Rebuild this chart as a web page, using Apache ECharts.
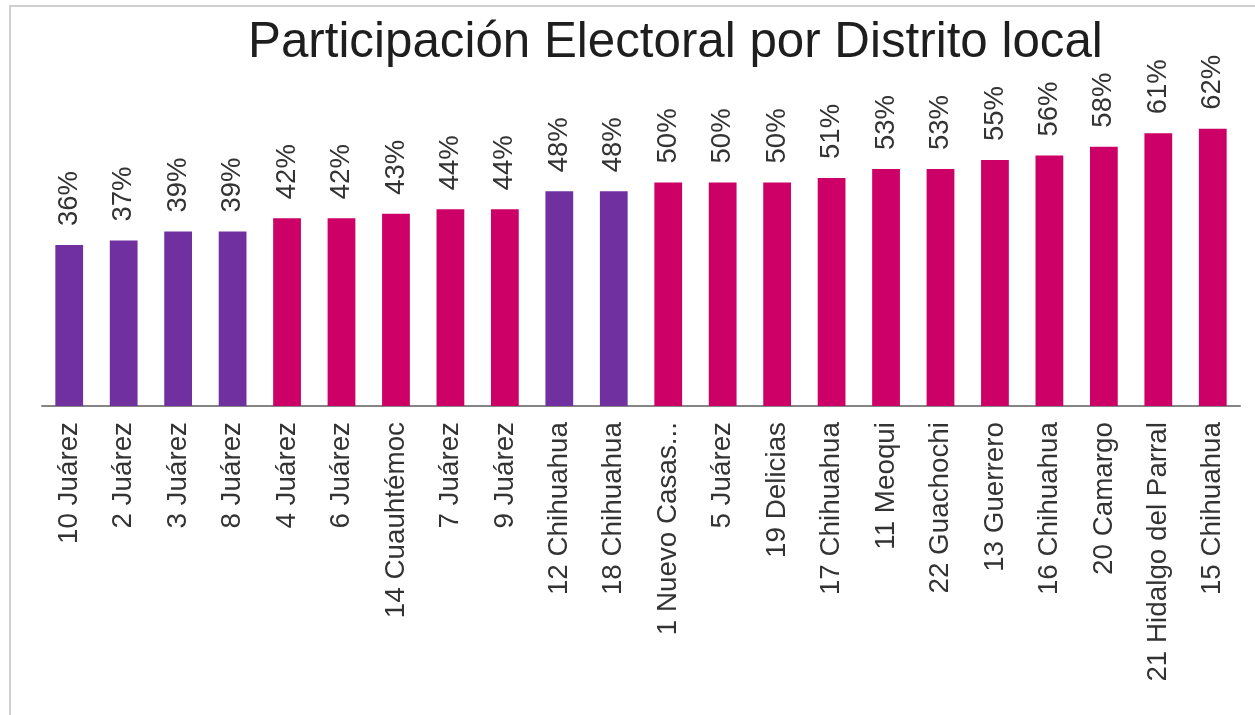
<!DOCTYPE html>
<html>
<head>
<meta charset="utf-8">
<title>Participación Electoral por Distrito local</title>
<script src="https://cdn.jsdelivr.net/npm/echarts@6/dist/echarts.min.js"></script>
<style>
  html, body { margin: 0; padding: 0; background: #fff; }
  #main { width: 1255px; height: 715px; }
</style>
</head>
<body>
<div id="main"></div>
<script>
// distritos locales, ordenados por participación
var districts = ['10 Juárez', '2 Juárez', '3 Juárez', '8 Juárez', '4 Juárez', '6 Juárez',
  '14 Cuauhtémoc', '7 Juárez', '9 Juárez', '12 Chihuahua', '18 Chihuahua', '1 Nuevo Casas...',
  '5 Juárez', '19 Delicias', '17 Chihuahua', '11 Meoqui', '22 Guachochi', '13 Guerrero',
  '16 Chihuahua', '20 Camargo', '21 Hidalgo del Parral', '15 Chihuahua'];
var participation = [0.36, 0.37, 0.39, 0.39, 0.42, 0.42, 0.43, 0.44, 0.44, 0.48, 0.48, 0.50,
  0.50, 0.50, 0.51, 0.53, 0.53, 0.55, 0.56, 0.58, 0.61, 0.62];
// grupo de cada distrito (define el color de la barra)
var group = ['A', 'A', 'A', 'A', 'B', 'B', 'B', 'B', 'B', 'A', 'A', 'B',
  'B', 'B', 'B', 'B', 'B', 'B', 'B', 'B', 'B', 'B'];

var groupColor = { A: '#7030A0', B: '#CC0066' };
var font = "'Liberation Sans', Arial, sans-serif";

var chart = echarts.init(document.getElementById('main'), null, { renderer: 'canvas' });

var option = {
  backgroundColor: '#fff',
  animation: false,
  title: {
    text: 'Participación Electoral por Distrito local',
    left: 243,
    top: 14,
    textStyle: {
      fontFamily: font,
      fontSize: 49.3,
      fontWeight: 'normal',
      color: '#1e1e1e'
    }
  },
  graphic: [
    {
      type: 'rect',
      shape: { x: 10, y: 6, width: 1400, height: 900 },
      style: { fill: 'none', stroke: '#d0d0d0', lineWidth: 2 },
      silent: true
    }
  ],
  grid: {
    left: 42,
    right: 15,
    top: 93,
    bottom: 309,
    containLabel: false
  },
  xAxis: {
    type: 'category',
    data: districts,
    axisTick: { show: false },
    axisLine: {
      lineStyle: { color: '#858585', width: 2 }
    },
    axisLabel: {
      interval: 0,
      rotate: 90,
      margin: 16,
      fontFamily: font,
      fontSize: 27.8,
      color: '#333'
    }
  },
  yAxis: {
    type: 'value',
    min: 0,
    max: 0.7,
    show: false,
    splitLine: { show: false }
  },
  series: [
    {
      type: 'bar',
      barWidth: '51%',
      data: participation.map(function (v, i) {
        return { value: v, itemStyle: { color: groupColor[group[i]] } };
      }),
      label: {
        show: true,
        position: 'top',
        rotate: 90,
        align: 'left',
        verticalAlign: 'middle',
        distance: 19,
        fontFamily: font,
        fontSize: 27.5,
        color: '#333',
        formatter: function (p) {
          return Math.round(p.value * 100) + '%';
        }
      }
    }
  ]
};

chart.setOption(option);
</script>
</body>
</html>
